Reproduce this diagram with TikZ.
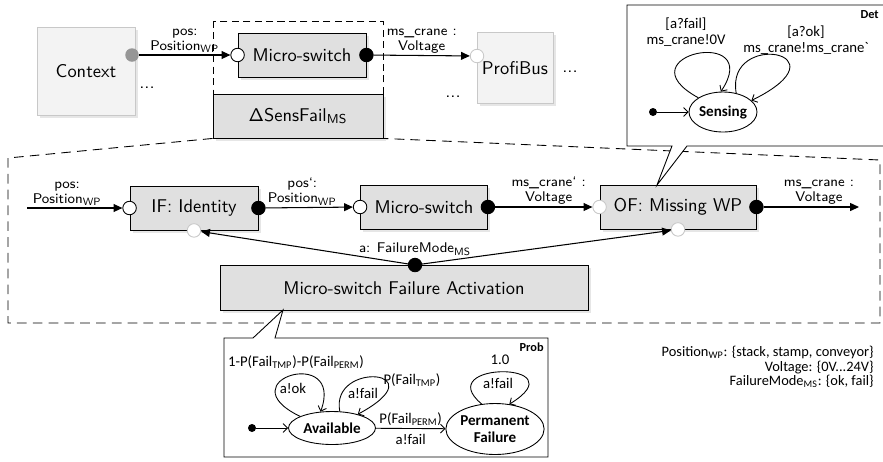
\documentclass[tikz,border=0pt]{standalone}
\usepackage{fontspec}
\newfontfamily\calibri{Carlito}
\usetikzlibrary{arrows.meta,shapes.geometric,shadows}

\definecolor{blockgray}{RGB}{224,224,224}
\definecolor{envfill}{RGB}{243,243,243}
\definecolor{envline}{RGB}{200,200,200}
\definecolor{dotgray}{RGB}{150,150,150}

\newcommand{\idx}[1]{\textsubscript{#1}}

\tikzset{
        block/.style={draw=black, line width=0.5pt, fill=blockgray, inner sep=0pt,
          font=\sffamily\fontsize{10.5}{12}\selectfont,
          drop shadow={shadow xshift=1.5pt, shadow yshift=-1.5pt, opacity=0.2}},
        envblock/.style={block, draw=envline, fill=envfill},
        portin/.style={circle, draw=black, fill=white, line width=0.5pt, minimum size=0.27cm, inner sep=0pt},
        portout/.style={portin, fill=black},
        portsoft/.style={portin, draw=envline},
        portgray/.style={portin, draw=none, fill=dotgray},
        flow/.style={line width=0.6pt, -{Triangle[length=5pt,width=4.5pt]}},
        lbl/.style={font=\sffamily\fontsize{8}{8.5}\selectfont, align=center, inner sep=1pt},
        dots/.style={font=\sffamily\fontsize{10.5}{12}\selectfont, inner sep=0pt},
        dashbox/.style={line width=0.5pt, dash pattern=on 4pt off 2.5pt},
        funnel/.style={line width=0.5pt, dash pattern=on 5.5pt off 3.5pt},
        callout/.style={draw=black, line width=0.5pt, fill=white},
        state/.style={ellipse, draw=black, line width=0.5pt, fill=white, inner sep=0pt, align=center,
          font=\calibri\bfseries\fontsize{8.6}{9.5}\selectfont},
        init/.style={circle, fill=black, minimum size=0.16cm, inner sep=0pt},
        trans/.style={line width=0.5pt, -{Straight Barb[length=2.5pt,width=5pt]}},
        sm/.style={font=\calibri\fontsize{8.4}{9.5}\selectfont, align=center, inner sep=0pt},
        tag/.style={font=\calibri\bfseries\fontsize{7}{8}\selectfont, inner sep=0pt}
          }

\begin{document}
\begin{tikzpicture}[x=0.02cm, y=-0.02cm]
  \useasboundingbox (0,0) rectangle (883,461);

  % environment level
  \draw[dashbox] (213,21) rectangle (383,138);
  \node[envblock, minimum width=1.96cm, minimum height=1.76cm] (ctx) at (86,71) {Context};
  \node[envblock, minimum width=1.52cm, minimum height=1.42cm] (pb) at (515,68) {ProfiBus};
  \node[block, minimum width=2.56cm, minimum height=0.88cm] (ms) at (302,55) {Micro-switch};
  \node[block, minimum width=3.4cm, minimum height=0.88cm] (sens) at (298,116) {ΔSensFail\idx{MS}};

  \node[portgray] (ctx-out) at (132,55) {};
  \node[portin] (ms-in) at (ms.west) {};
  \node[portout] (ms-out) at (ms.east) {};
  \node[portsoft] (pb-in) at (477,56) {};

  \draw[flow] (ctx-out) -- (ms-in) node[lbl, midway, above] {pos:\\Position\idx{WP}};
  \draw[flow] (ms-out) -- (pb-in) node[lbl, midway, above] {ms\_crane :\\Voltage};

  \node[dots] (ctx-dots) at (147,88) {...};
  \node[dots] (pb-dots) at (570,72) {...};
  \node[dots] (pb-dots2) at (453,97) {...};

  % refinement of the micro-switch
  \draw[funnel] (sens.south west) -- (8,158) -- (8,323) -- (880,323) -- (880,160) -- (sens.south east);

  \node[block, minimum width=2.56cm, minimum height=0.88cm] (ifid) at (194,208) {IF: Identity};
  \node[block, minimum width=2.54cm, minimum height=0.88cm] (ms2) at (424,207) {Micro-switch};
  \node[block, minimum width=3.12cm, minimum height=0.88cm] (of) at (678,207) {OF: Missing WP};
  \node[block, minimum width=7.36cm, minimum height=0.9cm] (fa) at (404,288) {Micro-switch Failure Activation};

  \node[portin] (ifid-in) at (ifid.west) {};
  \node[portout] (ifid-out) at (ifid.east) {};
  \node[portsoft] (ifid-bot) at (ifid.south) {};
  \node[portin] (ms2-in) at (ms2.west) {};
  \node[portout] (ms2-out) at (ms2.east) {};
  \node[portsoft] (of-in) at (of.west) {};
  \node[portout] (of-out) at (of.east) {};
  \node[portsoft] (of-bot) at (of.south) {};
  \node[portout] (fa-out) at (415,265) {};

  \coordinate (src) at (27,208);
  \coordinate (snk) at (859,207);

  \draw[flow] (src) -- (ifid-in) node[lbl, pos=0.42, above] {pos:\\Position\idx{WP}};
  \draw[flow] (ifid-out) -- (ms2-in) node[lbl, pos=0.42, above] {pos`:\\Position\idx{WP}};
  \draw[flow] (ms2-out) -- (of-in) node[lbl, pos=0.55, above] {ms\_crane` :\\Voltage};
  \draw[flow] (of-out) -- (snk) node[lbl, pos=0.58, above] {ms\_crane :\\Voltage};
  \draw[flow] (fa-out) -- (ifid-bot);
  \draw[flow] (fa-out) -- (of-bot);
  \node[lbl, anchor=south] (fa-lbl) at (fa-out.north) {a: FailureMode\idx{MS}};

  % deterministic behaviour of OF
  \draw[callout] (627,5) -- (886,5) -- (886,146) -- (687,146) -- (657,185) -- (672,146) -- (627,146) -- cycle;
  \node[tag, anchor=north east] (det) at (879,10) {Det};
  \node[state, minimum width=1.36cm, minimum height=0.8cm] (sensing) at (723,112) {Sensing};
  \node[init] (det-init) at (653,112) {};
  \draw[trans] (det-init) -- (sensing);
  \draw[trans] (sensing.150) .. controls (620,55) and (765,25) .. (sensing.96);
  \draw[trans] (sensing.55) .. controls (725,30) and (850,52) .. (sensing.22);
  \node[sm] (det-l1) at (686,32) {[a?fail]\\ms\_crane!0V};
  \node[sm] (det-l2) at (806,40) {[a?ok]\\ms\_crane!ms\_crane`};

  % probabilistic behaviour of the failure activation
  \draw[callout] (224,338) -- (253,338) -- (283,310) -- (275,338) -- (548,338) -- (548,457) -- (224,457) -- cycle;
  \node[tag, anchor=north east] (prob) at (544,343) {Prob};
  \node[state, minimum width=1.74cm, minimum height=0.66cm] (avail) at (332,428) {Available};
  \node[state, minimum width=1.8cm, minimum height=1.02cm] (perm) at (495,429) {Permanent\\Failure};
  \node[init] (prob-init) at (252,428) {};
  \draw[trans] (prob-init) -- (avail);
  \draw[trans] (avail) -- (perm)
    node[sm, midway, above=1.5pt] {P(Fail\idx{PERM})}
    node[sm, midway, below=3pt] {a!fail};
  \draw[trans] (avail.160) .. controls (225,380) and (345,345) .. (avail.125);
  \draw[trans] (avail.65) .. controls (330,360) and (440,370) .. (avail.28);
  \draw[trans] (perm.118) .. controls (430,361) and (580,361) .. (perm.60);
  \node[sm] (lp-ok) at (293,388) {a!ok};
  \node[sm] (lp-fail) at (363,393) {a!fail};
  \node[sm] (lp-perm) at (498,383) {a!fail};
  \node[sm] (p-ok) at (296,362) {1-P(Fail\idx{TMP})-P(Fail\idx{PERM})};
  \node[sm] (p-tmp) at (412,380) {P(Fail\idx{TMP})};
  \node[sm] (p-one) at (500,360) {1.0};

  % value domains
  \node[sm, align=right, anchor=north east, font=\calibri\fontsize{8.2}{8.2}\selectfont] (domains) at (874,346)
    {Position\idx{WP}: \{stack, stamp, conveyor\}\\Voltage: \{0V...24V\}\\FailureMode\idx{MS}: \{ok, fail\}};
\end{tikzpicture}
\end{document}
